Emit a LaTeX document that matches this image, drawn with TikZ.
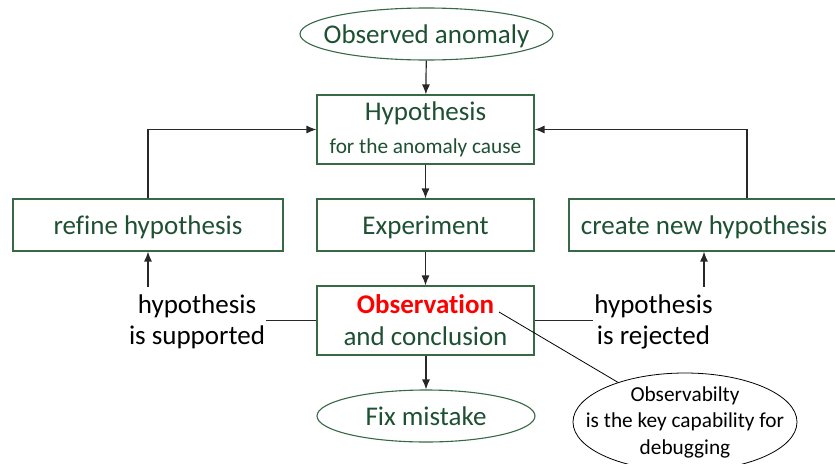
\documentclass[tikz,border=0pt]{standalone}
\usepackage{fontspec}
\setmainfont{Carlito}[Ligatures={NoCommon,NoContextual},Contextuals=NoAlternate]
\usetikzlibrary{shapes.geometric,arrows.meta}
\definecolor{txtgreen}{RGB}{30,80,50}
\definecolor{boxgreen}{RGB}{55,105,70}
\definecolor{obsred}{RGB}{255,0,0}
\definecolor{linegray}{RGB}{40,40,40}
\newcommand{\bigtxt}{\fontsize{27}{31}\selectfont}
\newcommand{\smalltxt}{\fontsize{21.3}{26.5}\selectfont}
\tikzset{
  stepbox/.style={draw=boxgreen, line width=1.1pt, rectangle, inner sep=0pt,
    minimum height=52pt, text=txtgreen, font=\bigtxt, align=center},
  oneline/.style={text height=22pt, text depth=3pt},
  termnode/.style={draw=boxgreen, line width=1.1pt, ellipse, inner sep=0pt,
    minimum height=52pt, text=txtgreen, font=\bigtxt, oneline},
  decision/.style={text=black, font=\bigtxt, align=center, inner sep=0pt},
  note/.style={draw=black, line width=0.8pt, ellipse, inner xsep=-21pt, inner ysep=-3pt,
    minimum width=224pt, minimum height=98pt, font=\smalltxt, align=center},
  flow/.style={draw=linegray, line width=1.2pt, -{Latex[length=10pt,width=8pt]}},
  plain/.style={draw=linegray, line width=1.1pt},
  pointer/.style={draw=black, line width=0.8pt}
}
\begin{document}
\begin{tikzpicture}[x=1pt,y=-1pt]
\useasboundingbox (0,0) rectangle (835,463);
\begin{scope}
\clip (0,0) rectangle (835,463);

% main column
\node[termnode, inner xsep=-14.5pt, minimum width=253pt] (anomaly) at (426.5,34) {Observed anomaly};
\node[stepbox, minimum width=217pt, minimum height=69pt] (hyp) at (425.5,129.5)
  {Hypothesis\\[2pt]{\smalltxt for the anomaly cause}};
\node[stepbox, oneline, minimum width=217pt] (exp) at (425.5,225) {Experiment};
\node[stepbox, minimum width=217pt, minimum height=69pt] (obs) at (425.5,320.5)
  {\textcolor{obsred}{\bfseries Observation}\\[1pt]and conclusion};
\node[termnode, minimum width=218pt] (fix) at (426,416) {Fix mistake};

% side branches
\node[stepbox, oneline, minimum width=270pt] (refine) at (148,225) {refine hypothesis};
\node[stepbox, oneline, minimum width=270pt] (create) at (704,225) {create new hypothesis};

% outcome labels
\node[decision] (supp) at (197,322) {hypothesis\\is supported};
\node[decision] (rej) at (653.5,322) {hypothesis\\is rejected};

% remark
\node[note] (remark) at (685,422) {Observabilty\\is the key capability for\\debugging};

% connectors in the main column
\draw[flow] (anomaly) -- (hyp);
\draw[flow] (hyp) -- (exp);
\draw[flow] (exp) -- (obs);
\draw[flow] (obs.south -| fix) -- (fix);

% feedback loops
\draw[flow] (refine.north) |- (hyp.west);
\draw[flow] ([xshift=43pt]create.north) |- (hyp.east);

% outcomes
\coordinate (suppup) at (148,287);
\coordinate (rejup) at (704,287);
\draw[flow] (suppup) -- (refine.south);
\draw[flow] (rejup) -- (create.south);
\draw[plain] (obs.west) -- ([xshift=1pt]supp.east |- obs.west);
\draw[plain] (obs.east) -- ([xshift=-1pt]rej.west |- obs.east);

% remark pointer
\coordinate (obstip) at (499,312);
\draw[pointer] (obstip) -- (remark);
\end{scope}
\end{tikzpicture}
\end{document}
